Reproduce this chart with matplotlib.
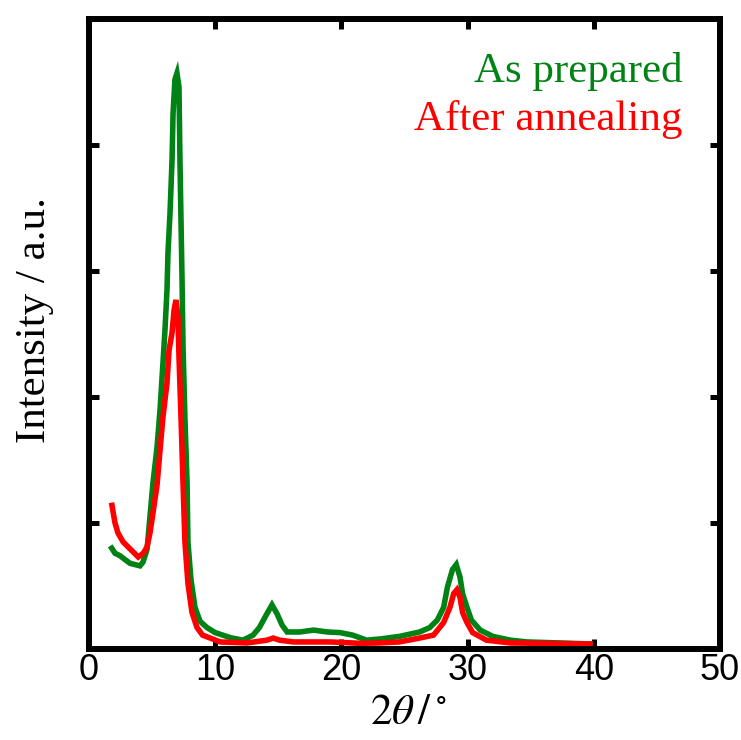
import matplotlib
matplotlib.use('Agg')
import matplotlib.pyplot as plt
from matplotlib import font_manager

# 2theta (deg) / intensity (a.u.)
x_prepared = [1.8, 2.06, 2.46, 2.85, 3.25, 3.64, 4.04, 4.28, 4.6, 5.07, 5.39, 5.63, 5.86,
              6.02, 6.18, 6.26, 6.42, 6.58, 6.66, 6.81, 6.97, 7.13, 7.21, 7.37, 7.45, 7.6,
              7.77, 7.84, 8.08, 8.4, 8.8, 9.35, 10.0, 11.2, 12.2, 13.0, 13.5, 14.1, 14.5,
              14.9, 15.3, 15.7, 16.7, 17.8, 18.9, 19.9, 20.9, 22.0, 23.1, 24.6, 26.2, 27.0,
              27.6, 28.1, 28.4, 28.8, 29.1, 29.4, 29.6, 29.95, 30.3, 31.0, 32.0, 33.4, 34.7,
              37.3, 39.7]
y_prepared = [0.80, 0.76, 0.74, 0.71, 0.68, 0.67, 0.66, 0.69, 0.79, 1.32, 1.60, 1.90, 2.27,
              2.53, 2.85, 3.15, 3.46, 3.88, 4.25, 4.52, 4.57, 4.46, 3.86, 2.95, 2.40, 1.84,
              1.32, 0.85, 0.55, 0.33, 0.22, 0.17, 0.13, 0.09, 0.07, 0.11, 0.17, 0.28, 0.35,
              0.28, 0.19, 0.135, 0.135, 0.15, 0.135, 0.13, 0.11, 0.07, 0.08, 0.10, 0.135, 0.17,
              0.23, 0.33, 0.49, 0.63, 0.67, 0.57, 0.44, 0.33, 0.23, 0.15, 0.10, 0.07, 0.056,
              0.048, 0.04]

x_annealed = [1.82, 2.06, 2.3, 2.7, 3.1, 3.5, 3.9, 4.3, 4.6, 4.83, 5.07, 5.39, 5.63, 5.86,
              6.18, 6.34, 6.58, 6.74, 6.89, 7.05, 7.13, 7.29, 7.45, 7.6, 7.84, 8.16, 8.56,
              9.0, 9.6, 10.4, 12.5, 14.1, 14.6, 15.1, 16.2, 19.1, 21.5, 23.0, 24.6, 26.2,
              27.3, 28.1, 28.6, 28.9, 29.15, 29.4, 29.6, 29.95, 30.4, 31.5, 33.4, 39.7]
y_annealed = [1.14, 1.0, 0.92, 0.85, 0.81, 0.77, 0.73, 0.76, 0.81, 0.92, 1.08, 1.30, 1.58, 1.84,
              2.11, 2.37, 2.51, 2.69, 2.77, 2.63, 2.32, 1.84, 1.32, 0.85, 0.52, 0.29, 0.17,
              0.11, 0.087, 0.056, 0.048, 0.07, 0.087, 0.07, 0.056, 0.056, 0.045, 0.048, 0.056,
              0.087, 0.11, 0.21, 0.33, 0.44, 0.47, 0.41, 0.29, 0.21, 0.13, 0.07, 0.048, 0.04]

installed = {f.name for f in font_manager.fontManager.ttflist}
tick_font = 'Liberation Sans Narrow' if 'Liberation Sans Narrow' in installed else 'Liberation Sans'
serif = ['Liberation Serif', 'DejaVu Serif']
plt.rcParams['mathtext.fontset'] = 'stix'

fig = plt.figure(figsize=(7.41, 7.40), dpi=100)
ax = fig.add_axes([89 / 741, 91 / 740, 631 / 741, 630 / 740])

ax.plot(x_prepared, y_prepared, color='#008214', lw=4.0, solid_joinstyle='miter')
ax.plot(x_annealed, y_annealed, color='#ff0000', lw=4.0, solid_joinstyle='miter')

ax.set_xlim(0, 50)
ax.set_ylim(0, 5)
ax.set_xticks([0, 10, 20, 30, 40, 50])
ax.set_yticks([0, 1, 2, 3, 4, 5])
ax.set_yticklabels([])
ax.tick_params(direction='in', length=7.2, width=3.6, top=True, right=True,
               labelsize=26, pad=3)
for lab in ax.get_xticklabels():
    lab.set_fontfamily([tick_font, 'DejaVu Sans'])
for sp in ax.spines.values():
    sp.set_linewidth(4.3)

fig.text(408 / 741, 1 - 712 / 740, r'$2\theta\,/\,^{\circ}$', fontsize=31,
         ha='center', va='center')
fig.text(35 / 741, 1 - 320 / 740, 'Intensity / a.u.', fontsize=31, family=serif,
         rotation=90, ha='center', va='center')

fig.text(683 / 741, 1 - 82 / 740, 'As prepared', fontsize=31, family=serif,
         color='#008214', ha='right', va='baseline')
fig.text(683 / 741, 1 - 130 / 740, 'After annealing', fontsize=31, family=serif,
         color='#ff0000', ha='right', va='baseline')

fig.savefig('out.png', dpi=100)
